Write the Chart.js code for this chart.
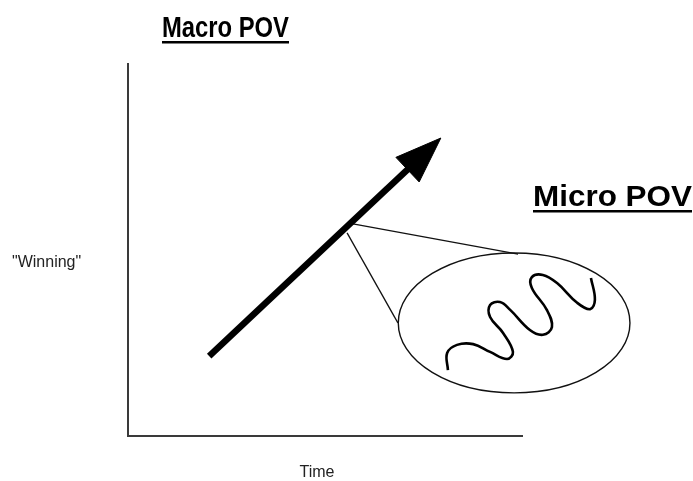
<!DOCTYPE html>
<html>
<head>
<meta charset="utf-8">
<script src="https://cdn.jsdelivr.net/npm/chart.js@4.4.0/dist/chart.umd.min.js"></script>
<style>
  html, body { margin: 0; padding: 0; background: #ffffff; }
  #wrap { position: relative; width: 693px; height: 481px; }
</style>
</head>
<body>
<div id="wrap"><canvas id="povChart" width="693" height="481"></canvas></div>
<script>
// axes run 0..100 in both directions
const axisTitles = { x: 'Time', y: '"Winning"' };
const headings = ['Macro POV', 'Micro POV'];

// big trend arrow
const arrowX = [20.6, 71.6];
const arrowY = [21.5, 72.3];
const headX = [79.4, 68.0, 73.9, 79.4];
const headY = [80.1, 74.9, 68.3, 80.1];

// zoom lines from arrow to ellipse
const lensUpperX = [57.1, 99.0];
const lensUpperY = [57.0, 48.9];
const lensLowerX = [55.6, 68.5];
const lensLowerY = [54.6, 30.4];

// zoomed ellipse: centre and radii
const ellipseCenter = [98.0, 30.4];
const ellipseRadius = [29.4, 18.8];

// wiggle inside the ellipse
const wiggleX = [81.2, 81.0, 83.5, 87.6, 91.9, 96.2, 97.7, 95.2, 91.9, 91.9, 94.4, 97.0,
                 102.0, 105.3, 107.6, 106.3, 102.5, 102.5, 105.3, 108.9, 114.0, 117.3, 118.5, 117.5];
const wiggleY = [17.7, 22.3, 24.5, 24.7, 22.6, 20.7, 22.6, 27.7, 32.0, 35.2, 36.0, 33.9,
                 28.5, 27.2, 29.3, 33.9, 39.8, 42.7, 43.3, 41.1, 35.8, 34.1, 36.6, 42.5];

function toPoints(xs, ys) {
    return xs.map((x, i) => ({ x: x, y: ys[i] }));
}

function lineSet(xs, ys, width, extra) {
    return Object.assign({
        data: toPoints(xs, ys),
        showLine: true,
        borderColor: '#000000',
        backgroundColor: '#000000',
        borderWidth: width,
        pointRadius: 0,
        pointHoverRadius: 0,
        tension: 0,
        clip: false
    }, extra || {});
}

// ellipse + text drawn with the scales
const diagramPlugin = {
    id: 'diagramText',
    afterDatasetsDraw(chart) {
        const ctx = chart.ctx;
        const xs = chart.scales.x;
        const ys = chart.scales.y;

        const cx = xs.getPixelForValue(ellipseCenter[0]);
        const cy = ys.getPixelForValue(ellipseCenter[1]);
        const rx = xs.getPixelForValue(ellipseCenter[0] + ellipseRadius[0]) - cx;
        const ry = cy - ys.getPixelForValue(ellipseCenter[1] + ellipseRadius[1]);
        ctx.save();
        ctx.beginPath();
        ctx.ellipse(cx, cy, rx, ry, 0, 0, Math.PI * 2);
        ctx.lineWidth = 1.4;
        ctx.strokeStyle = '#111111';
        ctx.stroke();
        ctx.restore();

        drawHeading(ctx, headings[0], 162, 37, 127, 42);
        drawHeading(ctx, headings[1], 533, 206, 159, 211);

        ctx.save();
        ctx.fillStyle = '#222222';
        ctx.font = '16px "Liberation Sans", Arial, sans-serif';
        ctx.textBaseline = 'alphabetic';
        ctx.textAlign = 'left';
        ctx.fillText(axisTitles.y, 12, 267);
        ctx.textAlign = 'center';
        ctx.fillText(axisTitles.x, 317, 477);
        ctx.restore();
    }
};

function drawHeading(ctx, text, left, baseline, width, underlineY) {
    ctx.save();
    ctx.font = 'bold 29px "Liberation Sans", Arial, sans-serif';
    ctx.fillStyle = '#000000';
    ctx.textBaseline = 'alphabetic';
    const w = ctx.measureText(text).width;
    ctx.translate(left, baseline);
    ctx.scale(width / w, 1);
    ctx.fillText(text, 0, 0);
    ctx.restore();
    ctx.save();
    ctx.fillStyle = '#000000';
    ctx.fillRect(left, underlineY - 1, width, 2.5);
    ctx.restore();
}

const axisScale = {
    type: 'linear',
    min: 0,
    max: 100,
    grid: { display: false, drawTicks: false },
    ticks: { display: false },
    border: { display: true, color: '#3a3a3a', width: 2 }
};

new Chart(document.getElementById('povChart'), {
    type: 'scatter',
    data: {
        datasets: [
            lineSet(arrowX, arrowY, 6.5, { borderCapStyle: 'butt' }),
            lineSet(headX, headY, 1, { fill: 'shape', borderJoinStyle: 'miter' }),
            lineSet(lensUpperX, lensUpperY, 1.3, { borderColor: '#111111' }),
            lineSet(lensLowerX, lensLowerY, 1.3, { borderColor: '#111111' }),
            lineSet(wiggleX, wiggleY, 2.6, { tension: 0.4, borderCapStyle: 'butt' })
        ]
    },
    options: {
        responsive: false,
        animation: false,
        events: [],
        layout: {
            padding: { left: 128, top: 64, right: 171, bottom: 45 }
        },
        plugins: {
            legend: { display: false },
            tooltip: { enabled: false },
            title: { display: false }
        },
        scales: {
            x: axisScale,
            y: Object.assign({}, axisScale)
        }
    },
    plugins: [diagramPlugin]
});
</script>
</body>
</html>
